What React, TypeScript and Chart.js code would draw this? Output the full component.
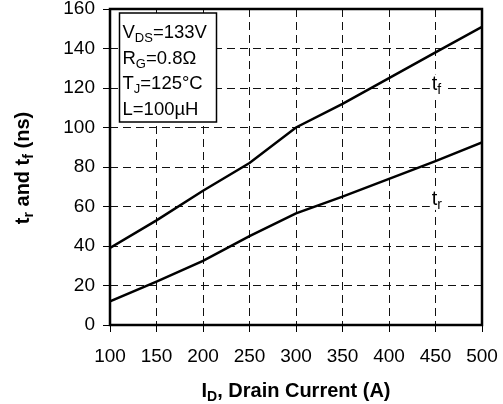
import React, { useEffect, useRef } from "react";
import { Chart, registerables } from "chart.js";

Chart.register(...registerables);

const currentA = [100, 150, 200, 250, 300, 350, 400, 450, 500];
const tfNs = [39, 53, 68, 82, 100, 112, 125, 138, 151];
const trNs = [12, 22, 32.5, 45, 56.5, 65, 74, 83, 92.5];

const xMin = 100;
const xMax = 500;
const xStep = 50;
const yMin = 0;
const yMax = 160;
const yStep = 20;

const conditions: { main: string; sub: string; rest: string }[] = [
  { main: "V", sub: "DS", rest: "=133V" },
  { main: "R", sub: "G", rest: "=0.8Ω" },
  { main: "T", sub: "J", rest: "=125°C" },
  { main: "L=100µH", sub: "", rest: "" },
];

const FONT = '"Liberation Sans", Arial, Helvetica, sans-serif';

type Seg = { t: string; sub?: boolean };

function segWidth(ctx: CanvasRenderingContext2D, segs: Seg[], size: number, bold: boolean) {
  let w = 0;
  for (const s of segs) {
    ctx.font = `${bold ? "bold " : ""}${s.sub ? Math.round(size * 0.68) : size}px ${FONT}`;
    w += ctx.measureText(s.t).width;
  }
  return w;
}

function drawSegs(ctx: CanvasRenderingContext2D, segs: Seg[], x: number, y: number, size: number, bold: boolean) {
  let cx = x;
  ctx.textAlign = "left";
  ctx.textBaseline = "alphabetic";
  for (const s of segs) {
    const fs = s.sub ? Math.round(size * 0.68) : size;
    ctx.font = `${bold ? "bold " : ""}${fs}px ${FONT}`;
    ctx.fillText(s.t, cx, s.sub ? y + size * 0.22 : y);
    cx += ctx.measureText(s.t).width;
  }
}

function curveLabel(ctx: CanvasRenderingContext2D, segs: Seg[], x: number, y: number, size: number) {
  const w = segWidth(ctx, segs, size, false);
  ctx.fillStyle = "#fff";
  ctx.fillRect(x - 2, y - size * 0.78, w + 4, size * 1.05);
  ctx.fillStyle = "#000";
  drawSegs(ctx, segs, x, y, size, false);
}

const overlay = {
  id: "overlay",
  afterDraw(chart: any) {
    const { ctx, chartArea: a, scales } = chart;
    const xs = scales.x;
    const ys = scales.y;
    ctx.save();
    ctx.fillStyle = "#000";
    ctx.strokeStyle = "#000";

    // curve labels
    curveLabel(ctx, [{ t: "t" }, { t: "f", sub: true }], xs.getPixelForValue(446), ys.getPixelForValue(119), 20);
    curveLabel(ctx, [{ t: "t" }, { t: "r", sub: true }], xs.getPixelForValue(446), ys.getPixelForValue(61), 20);

    // frame
    ctx.lineWidth = 2.5;
    ctx.strokeRect(a.left, a.top, a.right - a.left, a.bottom - a.top);

    // conditions box
    const bx = a.left + 9.5;
    const by = a.top + 4;
    const bw = 97;
    const bh = 109;
    ctx.fillStyle = "#fff";
    ctx.fillRect(bx, by, bw, bh);
    ctx.lineWidth = 1.5;
    ctx.strokeRect(bx, by, bw, bh);
    ctx.fillStyle = "#000";
    conditions.forEach((l, i) => {
      const segs: Seg[] = [{ t: l.main }];
      if (l.sub) segs.push({ t: l.sub, sub: true });
      if (l.rest) segs.push({ t: l.rest });
      drawSegs(ctx, segs, bx + 3, by + 25 + i * 25.7, 18.5, false);
    });

    // x title
    const xt: Seg[] = [{ t: "I" }, { t: "D", sub: true }, { t: ", Drain Current (A)" }];
    const xw = segWidth(ctx, xt, 20, true);
    const xc = (a.left + a.right) / 2;
    drawSegs(ctx, xt, xc - xw / 2, 397, 20, true);

    // y title
    const yt: Seg[] = [
      { t: "t" },
      { t: "r", sub: true },
      { t: " and t" },
      { t: "f", sub: true },
      { t: " (ns)" },
    ];
    const yw = segWidth(ctx, yt, 20, true);
    ctx.translate(29, 168);
    ctx.rotate(-Math.PI / 2);
    drawSegs(ctx, yt, -yw / 2, 0, 20, true);
    ctx.restore();
  },
};

export default function App() {
  const ref = useRef<HTMLCanvasElement | null>(null);
  useEffect(() => {
    if (!ref.current) return;
    const gridOpts = {
      color: "#111",
      lineWidth: 1,
      tickLength: 7,
      tickBorderDash: [],
      tickColor: "#000",
      tickWidth: 1,
    };
    const chart = new Chart(ref.current, {
      type: "line",
      data: {
        datasets: [
          {
            label: "tf",
            data: currentA.map((x, i) => ({ x, y: tfNs[i] })),
            borderColor: "#000",
            borderWidth: 2.5,
            pointRadius: 0,
            tension: 0,
            fill: false,
          },
          {
            label: "tr",
            data: currentA.map((x, i) => ({ x, y: trNs[i] })),
            borderColor: "#000",
            borderWidth: 2.5,
            pointRadius: 0,
            tension: 0,
            fill: false,
          },
        ],
      },
      options: {
        animation: false,
        responsive: true,
        maintainAspectRatio: false,
        layout: { padding: { top: 9, right: 21, left: 0, bottom: 0 } },
        plugins: { legend: { display: false }, tooltip: { enabled: false } },
        scales: {
          x: {
            type: "linear",
            min: xMin,
            max: xMax,
            afterFit: (s: any) => {
              s.height = 79;
              s.paddingLeft = 0;
              s.paddingRight = 0;
            },
            ticks: {
              stepSize: xStep,
              color: "#000",
              padding: 13,
              font: { family: FONT, size: 19 },
              maxRotation: 0,
            },
            grid: gridOpts,
            border: { display: false, dash: [8, 5] },
          },
          y: {
            type: "linear",
            min: yMin,
            max: yMax,
            afterFit: (s: any) => {
              s.width = 110;
              s.paddingTop = 0;
              s.paddingBottom = 0;
            },
            ticks: {
              stepSize: yStep,
              color: "#000",
              padding: 8,
              font: { family: FONT, size: 19 },
            },
            grid: gridOpts,
            border: { display: false, dash: [8, 5] },
          },
        },
      },
      plugins: [overlay],
    });
    return () => chart.destroy();
  }, []);
  return (
    <div style={{ position: "absolute", left: 0, top: 0, width: 503, height: 404, background: "#fff" }}>
      <canvas ref={ref} />
    </div>
  );
}
